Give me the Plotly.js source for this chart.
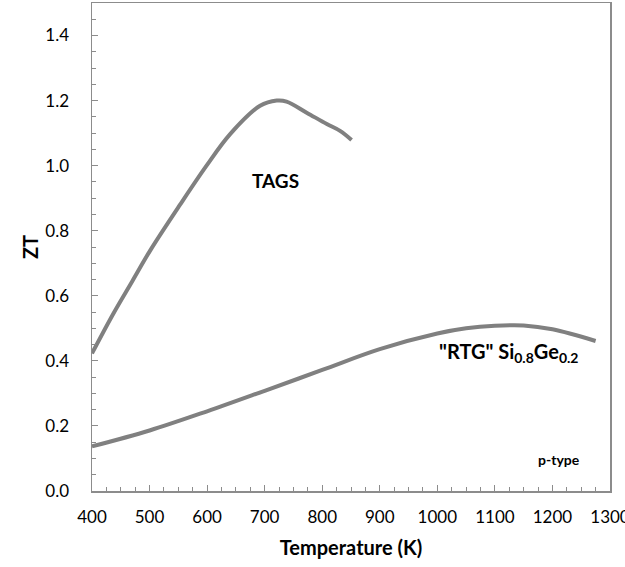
<!DOCTYPE html>
<html>
<head>
<meta charset="utf-8">
<script src="https://cdn.plot.ly/plotly-3.0.1.min.js"></script>
<style>html,body{margin:0;padding:0;background:#fff;}#chart{width:625px;height:567px;}</style>
</head>
<body>
<div id="chart"></div>
<script>
// TAGS curve (Temperature K, ZT)
const tagsT  = [400, 437, 470, 501, 553, 599, 640, 692, 721, 738, 773, 808, 831, 851];
const tagsZT = [0.423, 0.545, 0.645, 0.739, 0.88, 1.0, 1.097, 1.184, 1.20, 1.197, 1.163, 1.128, 1.107, 1.079];
// "RTG" Si0.8Ge0.2 curve
const sigeT  = [400, 500, 600, 700, 800, 900, 1000, 1050, 1100, 1150, 1200, 1275];
const sigeZT = [0.137, 0.186, 0.245, 0.308, 0.372, 0.436, 0.484, 0.500, 0.508, 0.509, 0.497, 0.461];

const xTickVals = [400, 500, 600, 700, 800, 900, 1000, 1100, 1200, 1300];
const xTickText = ["400", "500", "600", "700", "800", "900", "1000", "1100", "1200", "1300"];
const yTickVals = [0, 0.2, 0.4, 0.6, 0.8, 1.0, 1.2, 1.4];
const yTickText = ["0.0", "0.2", "0.4", "0.6", "0.8", "1.0", "1.2", "1.4"];

const lineStyle = {color: '#808080', width: 4, shape: 'spline', smoothing: 1};
const FONT = 'Lato, "Open Sans", sans-serif';

const data = [
  {x: tagsT, y: tagsZT, mode: 'lines', line: lineStyle, hoverinfo: 'skip'},
  {x: sigeT, y: sigeZT, mode: 'lines', line: lineStyle, hoverinfo: 'skip'}
];

const layout = {
  width: 625, height: 567,
  margin: {l: 92, r: 15, t: 3, b: 76},
  showlegend: false,
  paper_bgcolor: '#fff', plot_bgcolor: '#fff',
  font: {family: FONT, color: '#000', size: 17},
  xaxis: {
    range: [400, 1300], showgrid: false, zeroline: false,
    showline: true, linecolor: '#8c8c8c', linewidth: 1.5, mirror: true,
    tickmode: 'array', tickvals: xTickVals, ticktext: xTickText,
    ticks: 'inside', ticklen: 6, tickcolor: '#8c8c8c', tickwidth: 1,
    minor: {dtick: 25, ticks: 'inside', ticklen: 4, tickcolor: '#8c8c8c'},
    ticklabelstandoff: 10, ticklabeloverflow: 'allow',
    tickfont: {family: FONT, size: 17, color: '#000'},
    title: {text: '<b>Temperature (K)</b>', font: {family: FONT, size: 20, color: '#000'}, standoff: 15}
  },
  yaxis: {
    range: [0, 1.5], showgrid: false, zeroline: false,
    showline: true, linecolor: '#8c8c8c', linewidth: 1.5, mirror: true,
    tickmode: 'array', tickvals: yTickVals, ticktext: yTickText,
    ticks: 'inside', ticklen: 6, tickcolor: '#8c8c8c', tickwidth: 1,
    minor: {dtick: 0.05, ticks: 'inside', ticklen: 4, tickcolor: '#8c8c8c'},
    ticklabelstandoff: 18,
    tickfont: {family: FONT, size: 17, color: '#000'},
    title: {text: '<b>ZT</b>', font: {family: FONT, size: 20, color: '#000'}, standoff: 1}
  },
  annotations: [
    {x: 718, y: 0.954, xref: 'x', yref: 'y', text: '<b>TAGS</b>', showarrow: false,
     font: {family: FONT, size: 19, color: '#000'}},
    {x: 1124, y: 0.425, xref: 'x', yref: 'y', text: '<b>"RTG" Si<sub>0.8</sub>Ge<sub>0.2</sub></b>', showarrow: false,
     font: {family: FONT, size: 20, color: '#000'}},
    {x: 1212, y: 0.098, xref: 'x', yref: 'y', text: '<b>p-type</b>', showarrow: false,
     font: {family: FONT, size: 14, color: '#000'}}
  ]
};

Plotly.newPlot('chart', data, layout, {staticPlot: true, displayModeBar: false});
</script>
</body>
</html>
